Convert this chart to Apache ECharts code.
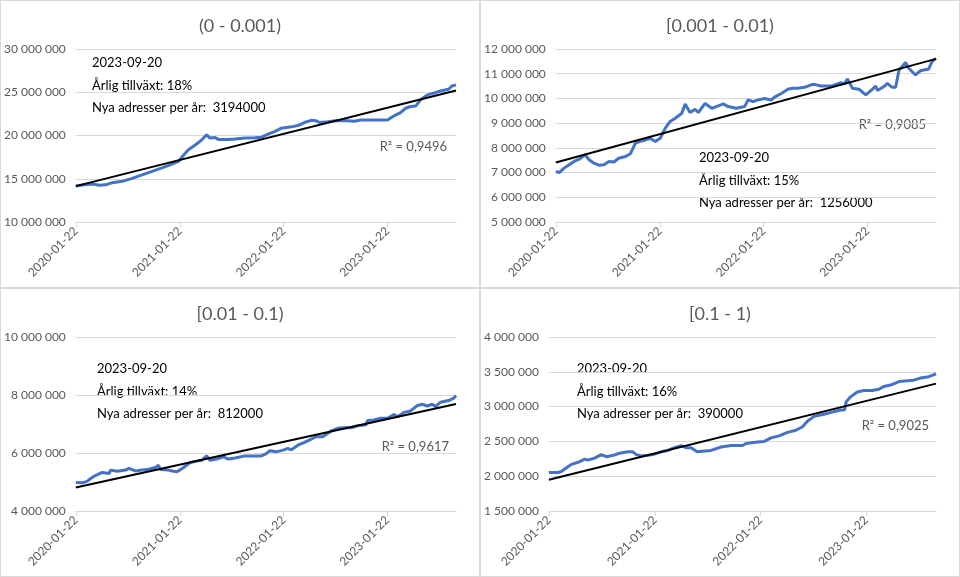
<!DOCTYPE html>
<html>
<head>
<meta charset="utf-8">
<script src="https://cdn.jsdelivr.net/npm/echarts@6/dist/echarts.min.js"></script>
<style>
html, body { margin: 0; padding: 0; background: #fff; }
#wrap { position: relative; width: 960px; height: 577px; }
.panel { position: absolute; box-sizing: border-box; border: 1px solid #d9d9d9; }
</style>
</head>
<body>
<div id="wrap">
  <div class="panel" id="c1" style="left:0;top:0;width:480px;height:288px"></div>
  <div class="panel" id="c2" style="left:480px;top:0;width:480px;height:288px"></div>
  <div class="panel" id="c3" style="left:0;top:288px;width:480px;height:289px"></div>
  <div class="panel" id="c4" style="left:480px;top:288px;width:480px;height:289px"></div>
</div>
<script>
// x axis
var startDate = '2020-01-22';
var endDate = '2023-09-20';
var tickLabels = ['2020-01-22', '2021-01-22', '2022-01-22', '2023-01-22'];

// (0 - 0.001)
var dates1 = ['2020-01-22','2020-02-21','2020-03-23','2020-04-13','2020-05-06','2020-05-29','2020-07-03','2020-08-07','2020-09-11','2020-10-16',
  '2020-11-20','2020-12-25','2021-01-17','2021-02-04','2021-02-21','2021-03-17','2021-04-09','2021-04-26','2021-05-08','2021-05-26',
  '2021-06-06','2021-07-11','2021-08-04','2021-09-08','2021-10-12','2021-11-05','2021-11-28','2021-12-21','2022-01-14','2022-02-18',
  '2022-03-13','2022-04-05','2022-04-29','2022-05-16','2022-05-28','2022-06-26','2022-07-31','2022-09-04','2022-09-27','2022-10-21',
  '2022-11-13','2022-12-18','2023-01-22','2023-02-14','2023-03-09','2023-03-27','2023-04-13','2023-05-01','2023-05-18','2023-06-11',
  '2023-07-04','2023-07-27','2023-08-25','2023-09-06','2023-09-20'];
var vals1 = [14150000,14300000,14400000,14250000,14300000,14550000,14700000,15050000,15450000,15850000,
  16250000,16700000,17000000,17750000,18350000,18900000,19500000,20080000,19700000,19770000,
  19550000,19550000,19600000,19700000,19730000,19800000,20150000,20450000,20850000,21000000,
  21150000,21500000,21750000,21700000,21500000,21600000,21730000,21700000,21650000,21800000,
  21800000,21800000,21800000,22270000,22650000,23150000,23350000,23400000,24100000,24700000,
  24900000,25150000,25350000,25730000,25850000];
var trend1 = [14150000, 25200000];

// [0.001 - 0.01)
var dates2 = ['2020-01-22','2020-02-03','2020-02-20','2020-03-09','2020-03-26','2020-04-13','2020-05-04','2020-05-18','2020-06-04','2020-06-22',
  '2020-07-09','2020-07-27','2020-08-13','2020-08-30','2020-09-23','2020-10-10','2020-10-28','2020-11-14','2020-12-02','2020-12-19',
  '2021-01-06','2021-01-23','2021-02-10','2021-02-27','2021-03-17','2021-04-09','2021-04-21','2021-05-08','2021-05-26','2021-06-06',
  '2021-06-30','2021-07-23','2021-08-15','2021-09-02','2021-09-19','2021-10-18','2021-11-16','2021-11-28','2021-12-16','2022-01-02',
  '2022-01-25','2022-02-18','2022-03-01','2022-03-25','2022-04-17','2022-05-04','2022-05-22','2022-06-14','2022-07-08','2022-07-19',
  '2022-08-12','2022-09-16','2022-10-21','2022-11-01','2022-11-13','2022-11-30','2022-12-24','2023-01-16','2023-02-08','2023-02-20',
  '2023-02-26','2023-03-21','2023-04-02','2023-04-19','2023-05-01','2023-05-13','2023-06-05','2023-06-16','2023-07-10','2023-07-27',
  '2023-08-25','2023-09-06','2023-09-20'];
var vals2 = [7050000,7000000,7180000,7320000,7450000,7540000,7720000,7520000,7380000,7300000,
  7320000,7450000,7430000,7580000,7650000,7760000,8190000,8260000,8320000,8390000,
  8260000,8390000,8800000,9070000,9200000,9400000,9770000,9430000,9560000,9430000,
  9800000,9600000,9700000,9780000,9670000,9600000,9670000,9940000,9870000,9940000,
  10000000,9940000,10050000,10200000,10370000,10410000,10410000,10450000,10550000,10570000,
  10500000,10500000,10640000,10590000,10790000,10410000,10370000,10140000,10370000,10500000,
  10320000,10480000,10610000,10450000,10450000,11150000,11450000,11220000,10950000,11120000,
  11190000,11490000,11620000];
var trend2 = [7410000, 11600000];

// [0.01 - 0.1)
var dates3 = ['2020-01-22','2020-02-14','2020-03-03','2020-03-14','2020-04-01','2020-04-24','2020-05-18','2020-05-23','2020-06-16','2020-07-15',
  '2020-07-27','2020-08-19','2020-09-11','2020-10-04','2020-10-28','2020-11-08','2020-11-14','2020-12-13','2020-12-31','2021-01-12',
  '2021-02-04','2021-02-27','2021-03-22','2021-04-09','2021-04-26','2021-05-08','2021-05-31','2021-06-24','2021-07-11','2021-08-04',
  '2021-09-08','2021-10-12','2021-11-05','2021-11-22','2021-12-04','2021-12-27','2022-01-20','2022-02-06','2022-02-18','2022-03-13',
  '2022-04-05','2022-04-29','2022-05-16','2022-06-08','2022-06-20','2022-07-08','2022-07-31','2022-08-23','2022-09-16','2022-10-09',
  '2022-11-07','2022-11-13','2022-12-06','2022-12-29','2023-01-22','2023-02-14','2023-02-26','2023-03-21','2023-04-13','2023-05-06',
  '2023-05-24','2023-06-11','2023-06-28','2023-07-10','2023-07-27','2023-08-25','2023-09-12','2023-09-20'];
var vals3 = [4980000,4970000,5030000,5120000,5230000,5330000,5290000,5410000,5370000,5410000,
  5470000,5380000,5410000,5440000,5500000,5580000,5430000,5410000,5370000,5350000,
  5500000,5670000,5720000,5750000,5900000,5750000,5790000,5870000,5790000,5830000,
  5900000,5900000,5900000,5980000,6080000,6040000,6100000,6160000,6110000,6270000,
  6370000,6480000,6560000,6560000,6640000,6760000,6850000,6870000,6870000,6940000,
  6970000,7120000,7140000,7200000,7200000,7330000,7250000,7400000,7450000,7630000,
  7680000,7620000,7680000,7600000,7750000,7810000,7890000,7980000];
var trend3 = [4810000, 7690000];

// [0.1 - 1)
var dates4 = ['2020-01-22','2020-02-23','2020-03-06','2020-03-23','2020-04-09','2020-05-02','2020-05-25','2020-06-05','2020-06-28','2020-07-21',
  '2020-08-08','2020-08-31','2020-09-22','2020-10-21','2020-11-07','2020-11-19','2020-12-06','2020-12-29','2021-01-15','2021-02-13',
  '2021-03-08','2021-03-31','2021-04-23','2021-05-10','2021-05-27','2021-06-17','2021-07-06','2021-08-04','2021-09-08','2021-10-12',
  '2021-11-21','2021-12-03','2022-01-12','2022-02-04','2022-02-27','2022-03-27','2022-04-25','2022-05-24','2022-06-16','2022-07-03',
  '2022-07-26','2022-08-29','2022-09-27','2022-10-26','2022-11-08','2022-11-14','2022-11-29','2022-12-22','2023-01-14','2023-02-12',
  '2023-03-07','2023-03-24','2023-04-16','2023-05-15','2023-06-12','2023-07-05','2023-07-28','2023-08-26','2023-09-20'];
var vals4 = [2053000,2053000,2070000,2120000,2170000,2200000,2245000,2230000,2260000,2310000,
  2280000,2300000,2330000,2350000,2350000,2310000,2290000,2300000,2310000,2350000,
  2370000,2410000,2440000,2410000,2410000,2350000,2360000,2370000,2420000,2440000,
  2440000,2470000,2490000,2500000,2550000,2580000,2630000,2660000,2710000,2790000,
  2860000,2890000,2920000,2950000,2950000,3070000,3140000,3210000,3230000,3230000,
  3250000,3290000,3310000,3360000,3370000,3380000,3410000,3430000,3470000];
var trend4 = [1950000, 3330000];

var FONT = 'Lato, "Open Sans", sans-serif';

function ts(s) {
  var p = s.split('-');
  return Date.UTC(+p[0], +p[1] - 1, +p[2]);
}
function pad(n) { return n < 10 ? '0' + n : '' + n; }
function fmtDate(t) {
  var d = new Date(t);
  return d.getUTCFullYear() + '-' + pad(d.getUTCMonth() + 1) + '-' + pad(d.getUTCDate());
}
function fmtNum(v) {
  return String(v).replace(/\B(?=(\d{3})+(?!\d))/g, ' ');
}

function text(str, x, y, color, align) {
  return {
    type: 'text', x: x, y: y, silent: true,
    style: {
      text: str, fill: color, font: '13px ' + FONT,
      align: align, verticalAlign: 'middle', textAlign: align, textVerticalAlign: 'middle'
    }
  };
}

function makeChart(el, cfg) {
  var chart = echarts.init(document.getElementById(el), null, {renderer: 'canvas'});
  var tickVals = tickLabels.map(ts);
  var lines = [
    text('2023-09-20', cfg.noteX, cfg.noteY, '#000', 'left'),
    text('\u00c5rlig tillv\u00e4xt: ' + cfg.growth, cfg.noteX, cfg.noteY + 22.5, '#000', 'left'),
    text('Nya adresser per \u00e5r:  ' + cfg.perYear, cfg.noteX, cfg.noteY + 45, '#000', 'left'),
    text('R\u00b2 = ' + cfg.r2, cfg.r2X, cfg.r2Y, '#595959', 'right')
  ];
  chart.setOption({
    animation: false,
    title: {
      text: cfg.title, left: 'center', top: 11,
      textStyle: {fontFamily: FONT, fontSize: 18, fontWeight: 'normal', color: '#595959'}
    },
    grid: {left: cfg.left, right: 23, top: 48, bottom: 65, containLabel: false},
    xAxis: {
      // dates as UTC timestamps on a plain value axis, labels only at tickLabels
      type: 'value', min: ts(startDate), max: ts(endDate),
      axisLine: {lineStyle: {color: '#d9d9d9', width: 1}},
      axisTick: {show: true, customValues: tickVals, length: 5, lineStyle: {color: '#d9d9d9'}},
      axisLabel: {
        customValues: tickVals, rotate: 45, margin: 7, formatter: fmtDate,
        color: '#595959', fontSize: 12, fontFamily: FONT
      },
      splitLine: {show: false}
    },
    yAxis: {
      type: 'value', min: cfg.min, max: cfg.max, interval: cfg.interval,
      axisLine: {show: false}, axisTick: {show: false},
      splitLine: {lineStyle: {color: '#d9d9d9', width: 1}},
      axisLabel: {formatter: fmtNum, color: '#595959', fontSize: 12, fontFamily: FONT, margin: 10}
    },
    graphic: lines,
    series: [
      {
        type: 'line', silent: true, showSymbol: false,
        data: cfg.dates.map(function (d, i) { return [ts(d), cfg.vals[i]]; }),
        lineStyle: {color: '#4472C4', width: 3}, itemStyle: {color: '#4472C4'}
      },
      {
        type: 'line', silent: true, showSymbol: false,
        data: [[ts(startDate), cfg.trend[0]], [ts(endDate), cfg.trend[1]]],
        lineStyle: {color: '#000', width: 2}, itemStyle: {color: '#000'}
      }
    ]
  });
}

makeChart('c1', {title: '(0 - 0.001)', dates: dates1, vals: vals1, trend: trend1,
  min: 10000000, max: 30000000, interval: 5000000, left: 72,
  growth: '18%', perYear: '3194000', r2: '0,9496',
  noteX: 91, noteY: 62, r2X: 446, r2Y: 146});
makeChart('c2', {title: '[0.001 - 0.01)', dates: dates2, vals: vals2, trend: trend2,
  min: 5000000, max: 12000000, interval: 1000000, left: 72,
  growth: '15%', perYear: '1256000', r2: '0,9085',
  noteX: 218, noteY: 157, r2X: 445, r2Y: 124});
makeChart('c3', {title: '[0.01 - 0.1)', dates: dates3, vals: vals3, trend: trend3,
  min: 4000000, max: 10000000, interval: 2000000, left: 72,
  growth: '14%', perYear: '812000', r2: '0,9617',
  noteX: 96, noteY: 80, r2X: 448, r2Y: 158});
makeChart('c4', {title: '[0.1 - 1)', dates: dates4, vals: vals4, trend: trend4,
  min: 1500000, max: 4000000, interval: 500000, left: 66,
  growth: '16%', perYear: '390000', r2: '0,9025',
  noteX: 96, noteY: 80, r2X: 448, r2Y: 137});
</script>
</body>
</html>
